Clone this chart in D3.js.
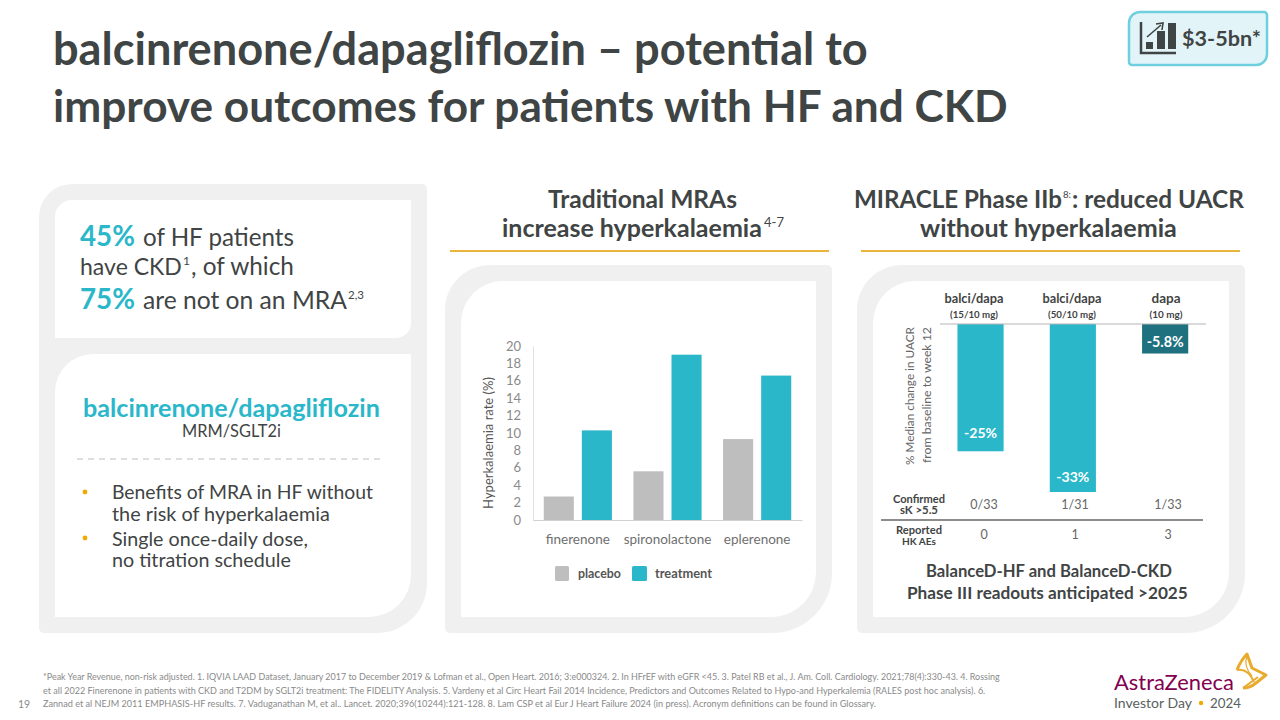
<!DOCTYPE html>
<html>
<head>
<meta charset="utf-8">
<title>balcinrenone/dapagliflozin</title>
<script src="https://cdn.jsdelivr.net/npm/d3@7"></script>
<style>
  html, body { margin: 0; padding: 0; background: #fff; }
  svg { display: block; }
  text { font-family: Lato, "Open Sans", sans-serif; }
</style>
</head>
<body>
<svg id="slide" width="1280" height="720"></svg>
<script>
// ── Data ───────────────────────────────────────────────────────────────────
const drugs = ["finerenone", "spironolactone", "eplerenone"];
const arms = ["placebo", "treatment"];
const placeboRates = [2.7, 5.6, 9.3];
const treatmentRates = [10.3, 19, 16.6];
const rateTicks = [0, 2, 4, 6, 8, 10, 12, 14, 16, 18, 20];

const doses = ["balci/dapa", "balci/dapa", "dapa"];
const doseNotes = ["(15/10 mg)", "(50/10 mg)", "(10 mg)"];
const uacrChange = [-25, -33, -5.8];
const uacrLabels = ["-25%", "-33%", "-5.8%"];
const confirmedSk = ["0/33", "1/31", "1/33"];
const reportedHk = ["0", "1", "3"];

const footnotes = [
  "*Peak Year Revenue, non-risk adjusted. 1. IQVIA LAAD Dataset, January 2017 to December 2019 & Lofman et al., Open Heart. 2016; 3:e000324. 2. In HFrEF with eGFR <45. 3. Patel RB et al., J. Am. Coll. Cardiology. 2021;78(4):330-43. 4. Rossing",
  "et all 2022 Finerenone in patients with CKD and T2DM by SGLT2i treatment: The FIDELITY Analysis. 5. Vardeny et al Circ  Heart Fail 2014 Incidence, Predictors and Outcomes Related to Hypo-and Hyperkalemia (RALES post hoc analysis). 6.",
  "Zannad et al NEJM 2011 EMPHASIS-HF results. 7. Vaduganathan M, et al.. Lancet. 2020;396(10244):121-128. 8. Lam CSP et al Eur J Heart Failure 2024 (in press). Acronym definitions can be found in Glossary."
];

// ── Colours ────────────────────────────────────────────────────────────────
const INK = "#3f4444";
const TEAL = "#2bb7ca";
const DARK_TEAL = "#1f717f";
const GREY_BAR = "#bebebe";
const GOLD = "#f0ab00";
const PANEL = "#f0f0f0";
const TICK = "#8a8a8a";
const RULE = "#e9b63b";

const svg = d3.select("#slide");

// ── Helpers ────────────────────────────────────────────────────────────────
// w = width on the slide: the font size is scaled so the text comes out that wide
function put(str, x, y, size, opts = {}) {
  const t = svg.append("text")
    .attr("x", x).attr("y", y)
    .attr("font-size", size)
    .attr("font-weight", opts.weight || 400)
    .attr("fill", opts.fill || INK)
    .attr("text-anchor", opts.anchor || "start")
    .text(str);
  if (opts.w) t.attr("font-size", size * opts.w / t.node().getComputedTextLength());
  if (opts.rotate) t.attr("transform", `rotate(-90 ${x} ${y})`);
  return t;
}

// a line of mixed runs (bold figures, superscripts), each run placed on its own
function putLine(y, runs) {
  runs.forEach(r => {
    put(r.text, r.x, y + (r.rise || 0), r.size, { weight: r.weight, fill: r.fill, w: r.w });
  });
}

// rectangle with separate corner radii: tl, tr, br, bl
function roundedBox(x0, y0, x1, y1, [tl, tr, br, bl], fill) {
  const p = d3.path();
  p.moveTo(x0 + tl, y0);
  p.lineTo(x1 - tr, y0);
  p.arcTo(x1, y0, x1, y0 + tr, tr);
  p.lineTo(x1, y1 - br);
  p.arcTo(x1, y1, x1 - br, y1, br);
  p.lineTo(x0 + bl, y1);
  p.arcTo(x0, y1, x0, y1 - bl, bl);
  p.lineTo(x0, y0 + tl);
  p.arcTo(x0, y0, x0 + tl, y0, tl);
  p.closePath();
  return svg.append("path").attr("d", p.toString()).attr("fill", fill);
}

// ── Title + revenue badge ──────────────────────────────────────────────────
put("balcinrenone/dapagliflozin – potential to", 53, 65, 42, { weight: 700, w: 815 });
put("improve outcomes for patients with HF and CKD", 53, 122, 42, { weight: 700, w: 955 });

roundedBox(1129, 12, 1267, 65, [11, 3, 11, 3], "#e3f4f8")
  .attr("stroke", "#6fcfdf").attr("stroke-width", 2.5);
svg.append("path").attr("d", "M1141 22V53H1176").attr("fill", "none").attr("stroke", INK).attr("stroke-width", 2.5);
svg.append("path").attr("d", "M1146 42h7v7h-7zM1157 31h8v18h-8zM1168 23h8v26h-8z").attr("fill", INK);
svg.append("path").attr("d", "M1147 37L1161 25").attr("fill", "none").attr("stroke", INK).attr("stroke-width", 1.6);
svg.append("path").attr("d", "M1156 24L1163 23L1162 30").attr("fill", "none").attr("stroke", INK).attr("stroke-width", 1.6);
put("$3-5bn*", 1182, 46, 24, { weight: 700, w: 79 });

// ── Left panel ─────────────────────────────────────────────────────────────
roundedBox(39, 184, 427, 633, [33, 5, 50, 5], PANEL);
roundedBox(55, 200, 411, 338, [17, 0, 15, 0], "#fff");
roundedBox(55, 354, 411, 617, [38, 0, 42, 0], "#fff");

putLine(246, [
  { text: "45%", x: 80, size: 30, weight: 700, fill: TEAL, w: 55 },
  { text: "of HF patients", x: 143, size: 25, w: 151 }
]);
putLine(275, [
  { text: "have CKD", x: 80, size: 25, w: 102 },
  { text: "1", x: 183, size: 12, rise: -10 },
  { text: ", of which", x: 191, size: 25, w: 103 }
]);
putLine(309, [
  { text: "75%", x: 80, size: 30, weight: 700, fill: TEAL, w: 55 },
  { text: "are not on an MRA", x: 143, size: 25, w: 204 },
  { text: "2,3", x: 348, size: 12, w: 16, rise: -10 }
]);

put("balcinrenone/dapagliflozin", 83, 417, 26, { weight: 700, fill: TEAL, w: 297 });
put("MRM/SGLT2i", 182, 437, 16, { w: 99 });
svg.append("line").attr("x1", 77).attr("x2", 385).attr("y1", 459).attr("y2", 459)
  .attr("stroke", "#bdbdbd").attr("stroke-width", 1.2).attr("stroke-dasharray", "6 5");

svg.append("circle").attr("cx", 85).attr("cy", 492).attr("r", 2.4).attr("fill", GOLD);
svg.append("circle").attr("cx", 85).attr("cy", 538).attr("r", 2.4).attr("fill", GOLD);
put("Benefits of MRA in HF without", 112, 499, 20, { w: 261 });
put("the risk of hyperkalaemia", 112, 521, 20, { w: 218 });
put("Single once-daily dose,", 112, 546, 20, { w: 196 });
put("no titration schedule", 112, 567, 20, { w: 179 });

// ── Middle panel: hyperkalaemia rates ──────────────────────────────────────
put("Traditional MRAs", 548, 208, 26, { weight: 700, w: 189 });
putLine(237, [
  { text: "increase hyperkalaemia", x: 502, size: 26, weight: 700, w: 260 },
  { text: "4-7", x: 764, size: 12, w: 20, rise: -10 }
]);
svg.append("line").attr("x1", 450).attr("x2", 829).attr("y1", 251).attr("y2", 251).attr("stroke", RULE).attr("stroke-width", 2);

roundedBox(445, 265, 832, 633, [45, 5, 60, 5], PANEL);
roundedBox(461, 281, 816, 617, [42, 0, 45, 0], "#fff");

const x0 = d3.scaleBand().domain(drugs).range([533, 802]).paddingInner(0.24).paddingOuter(0.12);
const x1 = d3.scaleBand().domain(arms).range([0, x0.bandwidth()]).paddingInner(0.21);
const yRate = d3.scaleLinear().domain([0, 20]).range([520, 346]);

const chart = svg.append("g");
const seriesRows = [
  { arm: arms[0], values: placeboRates, fill: GREY_BAR },
  { arm: arms[1], values: treatmentRates, fill: TEAL }
];
seriesRows.forEach(s => {
  chart.selectAll(null).data(s.values).enter().append("rect")
    .attr("x", (d, i) => x0(drugs[i]) + x1(s.arm))
    .attr("y", d => yRate(d))
    .attr("width", x1.bandwidth())
    .attr("height", d => yRate(0) - yRate(d))
    .attr("fill", s.fill);
});

const yAxisG = chart.append("g").attr("transform", "translate(533,0)")
  .call(d3.axisLeft(yRate).tickValues(rateTicks).tickSize(0).tickPadding(12));
const xAxisG = chart.append("g").attr("transform", "translate(0,520)")
  .call(d3.axisBottom(x0).tickSize(0).tickPadding(14));
yAxisG.select(".domain").attr("stroke", "#e0e0e0");
xAxisG.select(".domain").attr("stroke", "#d0d0d0");
yAxisG.selectAll("text").attr("font-size", 13).attr("fill", TICK).attr("font-family", "Lato");
xAxisG.selectAll("text").attr("font-size", 13.5).attr("fill", "#6f6f6f").attr("font-family", "Lato");

put("Hyperkalaemia rate (%)", 493, 443, 14, { anchor: "middle", rotate: true, fill: "#555", w: 132 });

svg.append("rect").attr("x", 555).attr("y", 566).attr("width", 14).attr("height", 15).attr("rx", 1.5).attr("fill", GREY_BAR);
svg.append("rect").attr("x", 632).attr("y", 566).attr("width", 15).attr("height", 15).attr("rx", 1.5).attr("fill", TEAL);
put(arms[0], 578, 578, 12.5, { weight: 700, fill: "#555", w: 43 });
put(arms[1], 655, 578, 12.5, { weight: 700, fill: "#555", w: 57 });

// ── Right panel: MIRACLE UACR ──────────────────────────────────────────────
putLine(208, [
  { text: "MIRACLE Phase IIb", x: 854, size: 26, weight: 700, w: 208 },
  { text: "8:", x: 1063, size: 12, w: 8, rise: -10 },
  { text: ": reduced UACR", x: 1072, size: 26, weight: 700, w: 172 }
]);
put("without hyperkalaemia", 920, 237, 26, { weight: 700, w: 257 });
svg.append("line").attr("x1", 861).attr("x2", 1240).attr("y1", 251).attr("y2", 251).attr("stroke", RULE).attr("stroke-width", 2);

roundedBox(857, 265, 1245, 633, [45, 5, 60, 5], PANEL);
roundedBox(873, 281, 1229, 617, [42, 0, 45, 0], "#fff");

const xDose = d3.scaleBand().domain(d3.range(3)).range([934.4, 1211.3]).paddingInner(0.5).paddingOuter(0.25);
const yUacr = d3.scaleLinear().domain([0, -33]).range([324, 492]);

svg.selectAll(null).data(uacrChange).enter().append("rect")
  .attr("x", (d, i) => xDose(i))
  .attr("y", yUacr(0))
  .attr("width", xDose.bandwidth())
  .attr("height", d => yUacr(d) - yUacr(0))
  .attr("fill", (d, i) => i === 2 ? DARK_TEAL : TEAL);
svg.append("line").attr("x1", 940).attr("x2", 1206).attr("y1", 324).attr("y2", 324).attr("stroke", "#b5b5b5").attr("stroke-width", 1);

// value labels sit just inside the bar end, by a different gap on each bar
const labelGap = [13, 10, 7];
uacrLabels.forEach((s, i) => {
  put(s, xDose(i) + xDose.bandwidth() / 2, yUacr(uacrChange[i]) - labelGap[i], 17, { weight: 700, fill: "#fff", anchor: "middle", w: s.length > 4 ? 37 : 33 });
});

const headerX = [974, 1072, 1166];
const rowX = [984, 1075, 1168];
doses.forEach((s, i) => {
  put(s, headerX[i], 303, 12.5, { weight: 700, anchor: "middle", w: s.length > 4 ? 59 : 29 });
  put(doseNotes[i], headerX[i], 318, 10, { weight: 700, anchor: "middle", w: s.length > 4 ? 48 : 33 });
  put(confirmedSk[i], rowX[i], 509, 12.5, { fill: "#666", anchor: "middle" });
  put(reportedHk[i], rowX[i], 539, 12.5, { fill: "#666", anchor: "middle" });
});

put("% Median change in UACR", 914, 396, 13, { anchor: "middle", rotate: true, fill: "#666", w: 138 });
put("from baseline to week 12", 931, 395, 13, { anchor: "middle", rotate: true, fill: "#666", w: 136 });

put("Confirmed", 919, 503, 11.5, { weight: 700, anchor: "middle", w: 52 });
put("sK >5.5", 919, 514, 11.5, { weight: 700, anchor: "middle", w: 38 });
svg.append("line").attr("x1", 881).attr("x2", 1203).attr("y1", 520).attr("y2", 520).attr("stroke", "#666").attr("stroke-width", 1.5);
put("Reported", 919, 534, 11.5, { weight: 700, anchor: "middle", w: 46 });
put("HK AEs", 919, 545, 11.5, { weight: 700, anchor: "middle", w: 34 });

put("BalanceD-HF and BalanceD-CKD", 926, 577, 17, { weight: 700, w: 246 });
put("Phase III readouts anticipated >2025", 907, 599, 17, { weight: 700, w: 281 });

// ── Footnotes + logo ───────────────────────────────────────────────────────
const footWidths = [959, 944, 834];
footnotes.forEach((s, i) => {
  put(s, 43, 680 + i * 13.7, 10, { fill: "#8a8a8a", w: footWidths[i] });
});
put("19", 18, 708, 10.5, { fill: "#8a8a8a" });

put("AstraZeneca", 1114, 690, 27, { fill: "#830051", w: 120 });
put("Investor Day", 1114, 708, 15.5, { fill: "#5a5f5f", w: 78 });
svg.append("circle").attr("cx", 1201).attr("cy", 703).attr("r", 2.2).attr("fill", GOLD);
put("2024", 1210, 708, 15.5, { fill: "#5a5f5f", w: 31 });

// gold logo mark
svg.append("path")
  .attr("d", "M1237 670Q1241 660 1247 654L1252 668L1266 675L1256 683Q1250 688 1243 688")
  .attr("fill", "none").attr("stroke", "#e8ab2e").attr("stroke-width", 3).attr("stroke-linejoin", "round");
svg.append("path")
  .attr("d", "M1237 670Q1248 668 1254 682M1243 688L1258 677")
  .attr("fill", "none").attr("stroke", "#e8ab2e").attr("stroke-width", 2);
svg.append("path")
  .attr("d", "M1247 656Q1243 666 1252 676")
  .attr("fill", "none").attr("stroke", "#e8ab2e").attr("stroke-width", 1.2);
</script>
</body>
</html>
